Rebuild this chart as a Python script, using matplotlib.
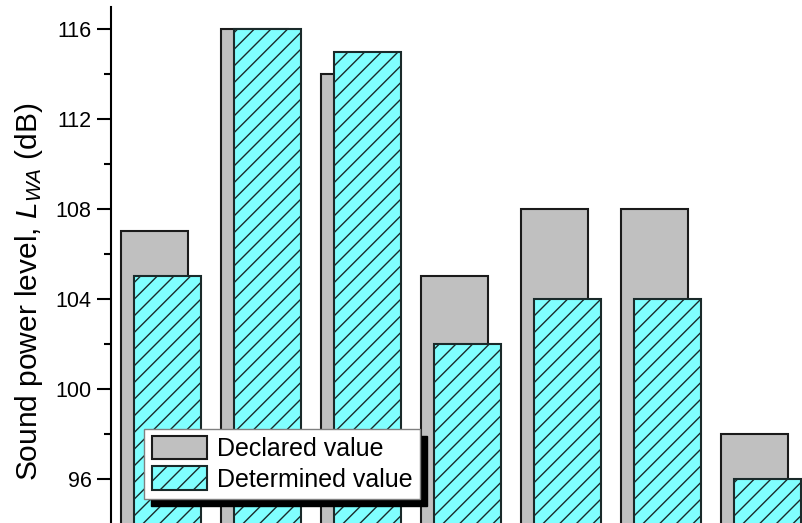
import numpy as np
import matplotlib
matplotlib.use('Agg')
import matplotlib.pyplot as plt

# Values
groups = np.arange(1, 8)
declared = [107, 116, 114, 105, 108, 108, 98]
determined = [105, 116, 115, 102, 104, 104, 96]

plt.rcParams['font.family'] = 'Liberation Sans'
plt.rcParams['mathtext.fontset'] = 'custom'
plt.rcParams['mathtext.rm'] = 'Liberation Sans'
plt.rcParams['mathtext.it'] = 'Liberation Sans:italic'
plt.rcParams['hatch.linewidth'] = 1.0
plt.rcParams['hatch.color'] = 'black'

fig = plt.figure(figsize=(8.02, 5.23), dpi=100)
ax = fig.add_axes([111 / 802, 0, 691 / 802, 516 / 523])

width = 0.67
offset = 0.13

ax.bar(groups, declared, width=width, align='edge', color='#C0C0C0',
       edgecolor='#1a1a1a', linewidth=1.5, label='Declared value')
ax.bar(groups + offset, determined, width=width, align='edge', color='#80FFFF',
       edgecolor='#1a2a2a', linewidth=1.5, hatch='//', label='Determined value')

ax.set_xlim(0.9, 7.81)
ax.set_ylim(94.04, 116.98)
ax.set_yticks([96, 100, 104, 108, 112, 116])
ax.set_yticks([98, 102, 106, 110, 114], minor=True)
ax.tick_params(axis='y', which='major', direction='out', length=10, width=1.5,
               labelsize=15.5, pad=4)
ax.tick_params(axis='y', which='minor', direction='out', length=5, width=1.5)
ax.set_xticks([])

for side in ['top', 'right', 'bottom']:
    ax.spines[side].set_visible(False)
ax.spines['left'].set_linewidth(1.5)

ax.set_ylabel('Sound power level, $L_{WA}$ (dB)', fontsize=21.5)
ax.yaxis.set_label_coords(-0.095, 0.448)

leg = ax.legend(loc='lower left', bbox_to_anchor=(0.048, 0.0465), borderaxespad=0,
                fontsize=18, fancybox=False, framealpha=1, edgecolor='#808080',
                handlelength=2.2, handleheight=1.05, handletextpad=0.4,
                labelspacing=0.2, borderpad=0.3,
                shadow={'ox': 5, 'oy': -5, 'color': 'black', 'alpha': 1})
leg.get_frame().set_linewidth(1.0)

fig.savefig('out.png', dpi=100)
